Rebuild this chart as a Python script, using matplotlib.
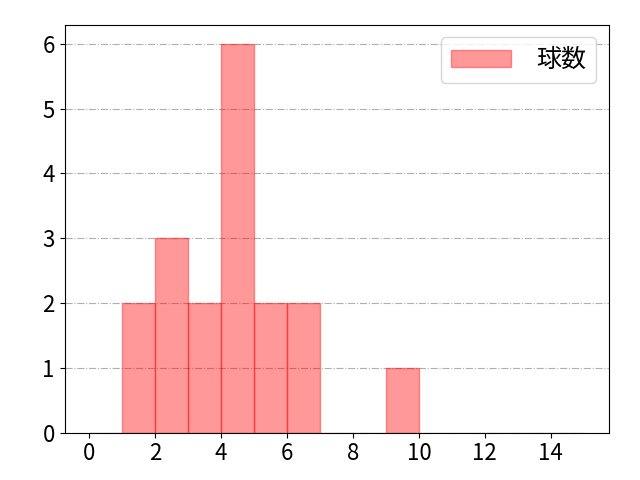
import matplotlib
matplotlib.use("Agg")
import matplotlib.pyplot as plt
import numpy as np

plt.rcParams['font.family'] = ['Noto Sans CJK JP', 'DejaVu Sans']
plt.rcParams['font.size'] = 16

bin_edges = list(range(0, 16))
counts = [0, 2, 3, 2, 6, 2, 2, 0, 0, 1, 0, 0, 0, 0, 0]
label = "球数"

fig = plt.figure(figsize=(6.4, 4.8), dpi=100)
ax = fig.add_axes([64.5/640, 1 - 432.5/480, (608.5 - 64.5)/640, (432.5 - 24.5)/480])
centers = np.array(bin_edges[:-1]) + 0.5
ax.hist(centers, bins=bin_edges, weights=counts, color='red', alpha=0.4,
        edgecolor='red', label=label)
ax.grid(axis='y', linestyle='-.', color='#b0b0b0')
ax.set_axisbelow(True)
ax.set_xticks(range(0, 15, 2))
ax.legend(loc='upper right', fontsize=18, handlelength=2.4, handletextpad=1.0)
fig.savefig("out.png")
